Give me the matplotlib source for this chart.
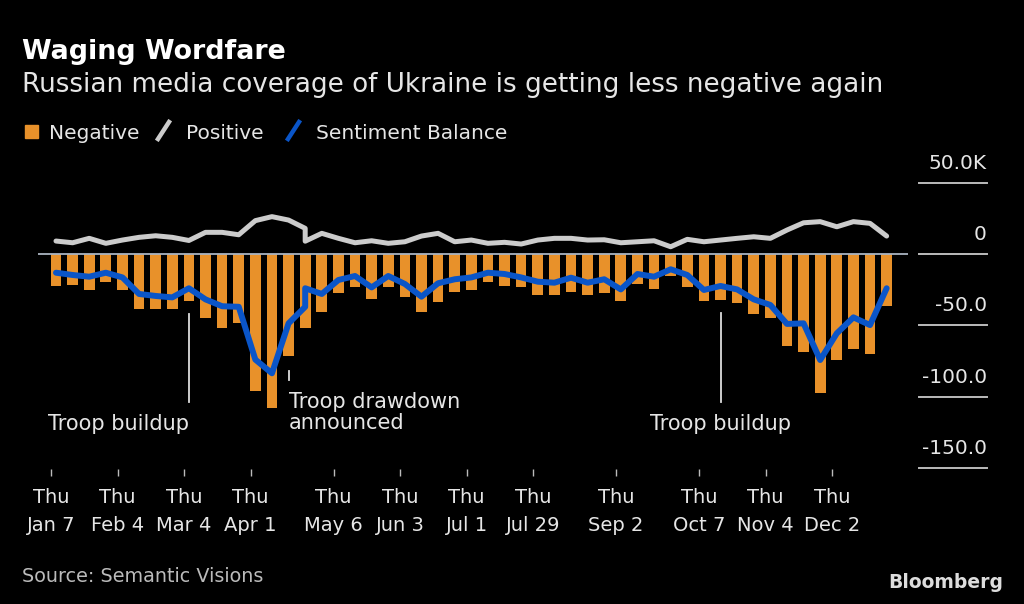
import numpy as np
import pandas as pd
import matplotlib
matplotlib.use("Agg")
import matplotlib.pyplot as plt
from matplotlib.patches import Rectangle
from matplotlib.lines import Line2D
from matplotlib import font_manager

# weekly data, thousands of articles
weeks = pd.date_range("2021-01-09", periods=51, freq="7D")
negative = [-22.2, -22.0, -25.2, -19.9, -25.2, -38.8, -38.8, -38.8, -32.9, -45.0,
            -51.6, -48.6, -96.0, -108.0, -71.2, -51.6, -40.9, -27.6, -23.4, -31.3,
            -23.4, -29.9, -40.9, -33.4, -26.6, -25.2, -19.9, -22.2, -23.4, -29.0,
            -29.0, -26.6, -29.0, -27.6, -32.9, -21.0, -24.5, -15.4, -23.4, -32.9,
            -32.0, -34.1, -41.8, -45.1, -64.5, -68.9, -97.2, -74.5, -66.8, -70.1,
            -36.4]

# the lines carry a doubled point in late April
line_dates = list(weeks[:16]) + [weeks[15]] + list(weeks[16:])
positive = [9.1, 7.9, 11.0, 7.5, 9.8, 11.7, 12.8, 11.7, 9.5, 15.2,
            15.2, 13.5, 23.4, 26.2, 23.8, 18.0, 9.0, 14.5, 11.0, 7.9,
            9.3, 7.5, 8.6, 12.6, 14.5, 8.6, 9.8, 7.5, 8.2, 7.0,
            9.8, 11.0, 11.0, 9.8, 10.0, 7.9, 8.6, 9.3, 5.1, 10.3,
            8.6, 9.8, 11.0, 12.1, 11.0, 16.8, 21.9, 22.7, 19.1, 22.7,
            21.5, 12.6]
balance = [-13.1, -14.7, -15.9, -13.1, -16.4, -28.0, -29.4, -30.4, -24.0, -31.8,
           -36.6, -37.0, -74.0, -83.6, -48.6, -37.0, -24.0, -28.0, -18.2, -15.4,
           -23.4, -15.4, -21.0, -29.9, -20.5, -17.7, -16.4, -13.1, -14.0, -16.4,
           -19.4, -20.1, -16.6, -20.1, -17.7, -24.8, -14.0, -15.9, -10.7, -14.7,
           -25.2, -22.4, -24.8, -31.8, -35.7, -49.0, -48.6, -74.3, -55.6, -44.4,
           -49.8, -24.0]

tick_dates = pd.to_datetime(["2021-01-07", "2021-02-04", "2021-03-04", "2021-04-01",
                             "2021-05-06", "2021-06-03", "2021-07-01", "2021-07-29",
                             "2021-09-02", "2021-10-07", "2021-11-04", "2021-12-02"])
tick_labels = ["Thu\n" + d.strftime("%b ") + str(d.day) for d in tick_dates]
ytick_vals = [50, 0, -50, -100, -150]
ytick_text = ["50.0K", "0", "-50.0", "-100.0", "-150.0"]

ORANGE = "#E8912A"
GREY = "#CCCCCC"
BLUE = "#0A55C8"
TXT = "#E6E6E6"

plt.rcParams["font.family"] = ["DejaVu Sans"]

# narrow face for the logo if one is installed
installed = {f.name for f in font_manager.fontManager.ttflist}
logo_family = "DejaVu Sans"
for cand in ["Liberation Sans Narrow", "DejaVu Sans Condensed"]:
    if cand in installed:
        logo_family = cand
        break

fig = plt.figure(figsize=(10.24, 6.04), dpi=100, facecolor="black")
ax = fig.add_axes([38 / 1024, 1 - 469 / 604, 870 / 1024, 299 / 604])
ax.set_facecolor("black")

ax.bar(weeks, negative, width=4.5, color=ORANGE, zorder=2)
ax.axhline(0, color="#AAB4C0", lw=1.3, zorder=3)
ax.plot(line_dates, positive, color=GREY, lw=3.6, zorder=4, solid_capstyle="round")
ax.plot(line_dates, balance, color=BLUE, lw=4.3, zorder=5, solid_capstyle="round")

ax.set_xlim(pd.Timestamp("2021-01-01 10:00"), pd.Timestamp("2022-01-03"))
ax.set_ylim(-150.7, 58.9)

for s in ax.spines.values():
    s.set_visible(False)

ax.set_xticks(tick_dates)
ax.set_xticklabels(tick_labels, fontsize=14, color=TXT, linespacing=1.6)
ax.tick_params(axis="x", length=5, width=1, color="#BBBBBB", pad=9)
ax.set_yticks([])

# right-hand value labels with short rules
for v, t in zip(ytick_vals, ytick_text):
    ax.plot([1.0126, 1.0908], [v, v], transform=ax.get_yaxis_transform(),
            color="#BBBBBB", lw=1.4, clip_on=False)
    ax.annotate(t, xy=(1.0908, v), xycoords=("axes fraction", "data"),
                xytext=(0, 10), textcoords="offset points",
                ha="right", va="baseline", fontsize=14.5, color=TXT)

# event annotations
ax.plot([weeks[8]] * 2, [-42, -104], color="#DDDDDD", lw=1.3, zorder=6)
ax.text(weeks[8], -119.5, "Troop buildup", ha="right", va="center",
        fontsize=15, color=TXT)
ax.plot([weeks[14]] * 2, [-82, -88], color="#DDDDDD", lw=1.3, zorder=6)
ax.text(weeks[14], -111, "Troop drawdown\nannounced", ha="left", va="center",
        fontsize=15, color=TXT, linespacing=1.1)
ax.plot([weeks[40]] * 2, [-41.5, -104], color="#DDDDDD", lw=1.3, zorder=6)
ax.text(weeks[40], -119.5, "Troop buildup", ha="center", va="center",
        fontsize=15, color=TXT)

# titles
fig.text(22 / 1024, 1 - 59.3 / 604, "Waging Wordfare", fontsize=19.4,
         fontweight="bold", color="white", va="baseline")
fig.text(22 / 1024, 1 - 91.7 / 604,
         "Russian media coverage of Ukraine is getting less negative again",
         fontsize=18.9, color=TXT, va="baseline")

# legend
fig.patches.append(Rectangle((25 / 1024, 1 - 138 / 604), 13 / 1024, 13 / 604,
                             transform=fig.transFigure, color=ORANGE))
fig.lines.append(Line2D([158 / 1024, 169 / 1024], [1 - 139 / 604, 1 - 122 / 604],
                        transform=fig.transFigure, color=GREY, lw=3.2))
fig.lines.append(Line2D([288 / 1024, 299 / 1024], [1 - 139 / 604, 1 - 122 / 604],
                        transform=fig.transFigure, color=BLUE, lw=3.2))
for x, lab in [(49, "Negative"), (186, "Positive"), (316, "Sentiment Balance")]:
    fig.text(x / 1024, 1 - 139 / 604, lab, fontsize=14.5, color=TXT, va="baseline")

# footer
fig.text(22 / 1024, 1 - 582 / 604, "Source: Semantic Visions", fontsize=13.8,
         color="#BBBBBB", va="baseline")
logo = fig.text(1003 / 1024, 1 - 588 / 604, "Bloomberg", fontsize=17,
                fontweight="bold", color="#DDDDDD", va="baseline", ha="right",
                family=logo_family)
if logo_family == "DejaVu Sans":
    logo.set_fontsize(13.5)

fig.savefig("out.png", dpi=100, facecolor="black")
